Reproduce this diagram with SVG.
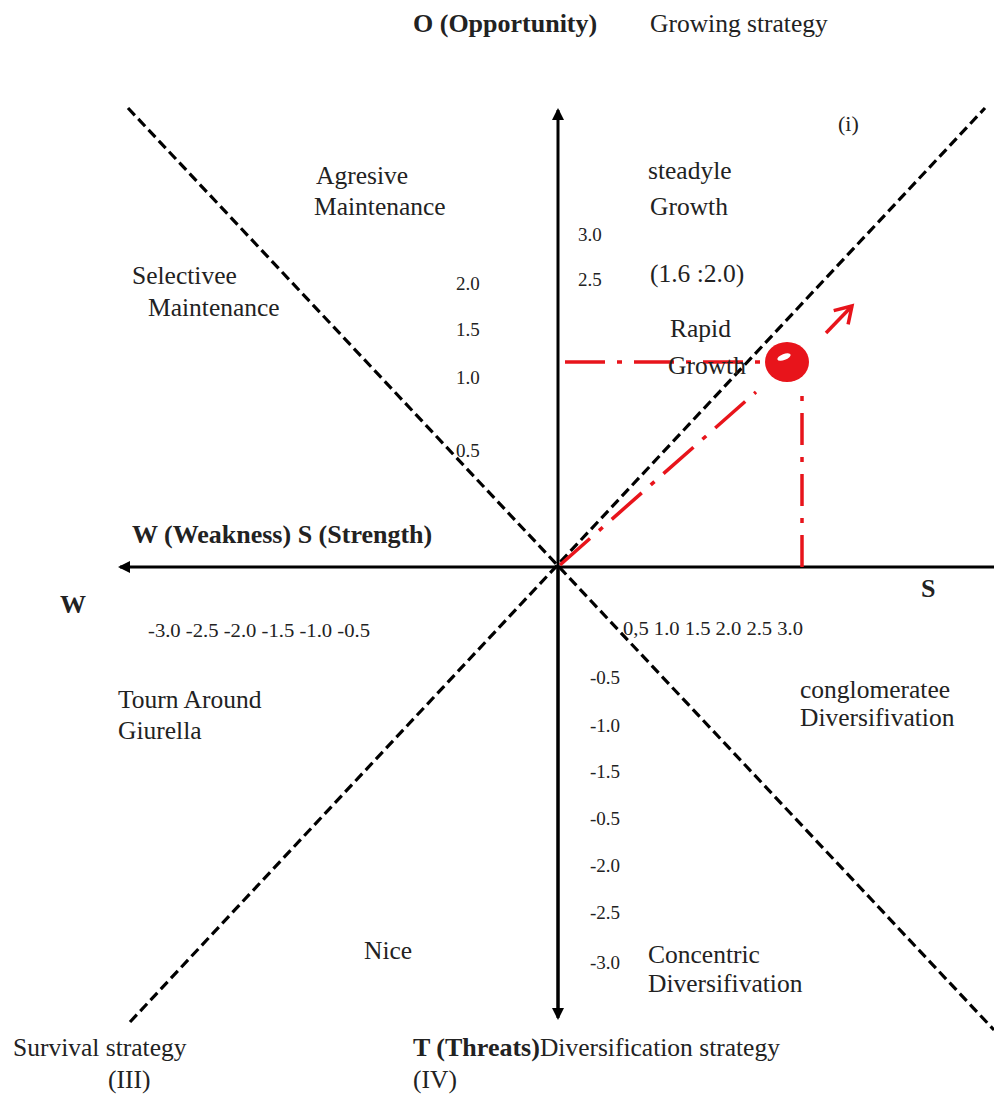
<svg xmlns="http://www.w3.org/2000/svg" width="994" height="1095" viewBox="0 0 994 1095">
<style>
text{font-family:"Liberation Serif","Times New Roman",serif;fill:#222;}
.lb{font-size:25.5px;}
.b{font-size:26px;font-weight:bold;}
.n{font-size:19px;}
.ax{stroke:#000;stroke-width:3;fill:none;}
.dash{stroke:#000;stroke-width:3.2;stroke-dasharray:10 5;fill:none;}
.red{stroke:#e8141b;stroke-width:3.5;fill:none;stroke-dasharray:40 12 5 12;}
</style>
<defs>
<marker id="ah" markerWidth="12" markerHeight="12" refX="10" refY="6" orient="auto" markerUnits="userSpaceOnUse">
<path d="M0,0 L12,6 L0,12 Z" fill="#000"/>
</marker>
<marker id="rh" markerWidth="24" markerHeight="24" refX="20" refY="12" orient="auto" markerUnits="userSpaceOnUse">
<path d="M4,2 L20,12 L4,22" fill="none" stroke="#e8141b" stroke-width="3.5"/>
</marker>
</defs>
<g id="connectors">
<line class="dash" x1="128" y1="108" x2="994" y2="1030"/>
<line class="dash" x1="130" y1="1022" x2="985" y2="108"/>
<line class="ax" x1="558" y1="1010" x2="558" y2="110" marker-end="url(#ah)"/>
<line class="ax" x1="558" y1="567" x2="558" y2="1018" marker-end="url(#ah)"/>
<line class="ax" x1="994" y1="567" x2="120" y2="567" marker-end="url(#ah)"/>
<line class="red" x1="565" y1="362" x2="764" y2="362"/>
<line class="red" x1="802" y1="567" x2="802" y2="393" style="stroke-dasharray:32 12 5 12"/>
<line class="red" x1="560" y1="565" x2="756" y2="392"/>
<line x1="826" y1="333" x2="852" y2="306" stroke="#e8141b" stroke-width="3.5" marker-end="url(#rh)"/>
</g>
<g id="point">
<ellipse cx="787" cy="362" rx="22" ry="20" fill="#e8141b"/>
<ellipse cx="784" cy="357" rx="7" ry="3" fill="#fff" transform="rotate(-20 784 357)"/>
</g>
<g id="labels">
<text class="b" x="413" y="32">O (Opportunity)</text>
<text class="lb" x="650" y="32">Growing strategy</text>
<text class="lb" x="838" y="131" style="font-size:22px">(i)</text>
<text class="lb" x="316" y="184">Agresive</text>
<text class="lb" x="314" y="215">Maintenance</text>
<text class="lb" x="648" y="179">steadyle</text>
<text class="lb" x="650" y="215">Growth</text>
<text class="lb" x="132" y="284">Selectivee</text>
<text class="lb" x="148" y="316">Maintenance</text>
<text class="lb" x="650" y="282">(1.6 :2.0)</text>
<text class="lb" x="670" y="337">Rapid</text>
<text class="lb" x="668" y="374">Growth</text>
<text class="b" x="132" y="543">W (Weakness) S (Strength)</text>
<text class="b" x="60" y="613">W</text>
<text class="b" x="921" y="597">S</text>
<text class="lb" x="118" y="708">Tourn Around</text>
<text class="lb" x="118" y="739">Giurella</text>
<text class="lb" x="800" y="698">conglomeratee</text>
<text class="lb" x="800" y="726">Diversifivation</text>
<text class="lb" x="364" y="959">Nice</text>
<text class="lb" x="648" y="963">Concentric</text>
<text class="lb" x="648" y="992">Diversifivation</text>
<text class="lb" x="13" y="1056">Survival strategy</text>
<text class="lb" x="108" y="1088">(III)</text>
<text x="413" y="1056"><tspan class="b">T (Threats)</tspan><tspan class="lb">Diversification strategy</tspan></text>
<text class="lb" x="413" y="1088">(IV)</text>
</g>
<g id="ticks">
<text class="n" x="578" y="241">3.0</text>
<text class="n" x="456" y="290">2.0</text>
<text class="n" x="578" y="286">2.5</text>
<text class="n" x="456" y="336">1.5</text>
<text class="n" x="456" y="384">1.0</text>
<text class="n" x="456" y="457">0.5</text>
<text class="n" x="148" y="637" textLength="222" lengthAdjust="spacingAndGlyphs">-3.0 -2.5 -2.0 -1.5 -1.0 -0.5</text>
<text class="n" x="623" y="635" textLength="180" lengthAdjust="spacingAndGlyphs">0,5 1.0 1.5 2.0 2.5 3.0</text>
<text class="n" x="590" y="684">-0.5</text>
<text class="n" x="590" y="732">-1.0</text>
<text class="n" x="590" y="778">-1.5</text>
<text class="n" x="590" y="825">-0.5</text>
<text class="n" x="590" y="872">-2.0</text>
<text class="n" x="590" y="919">-2.5</text>
<text class="n" x="590" y="969">-3.0</text>
</g>
</svg>
